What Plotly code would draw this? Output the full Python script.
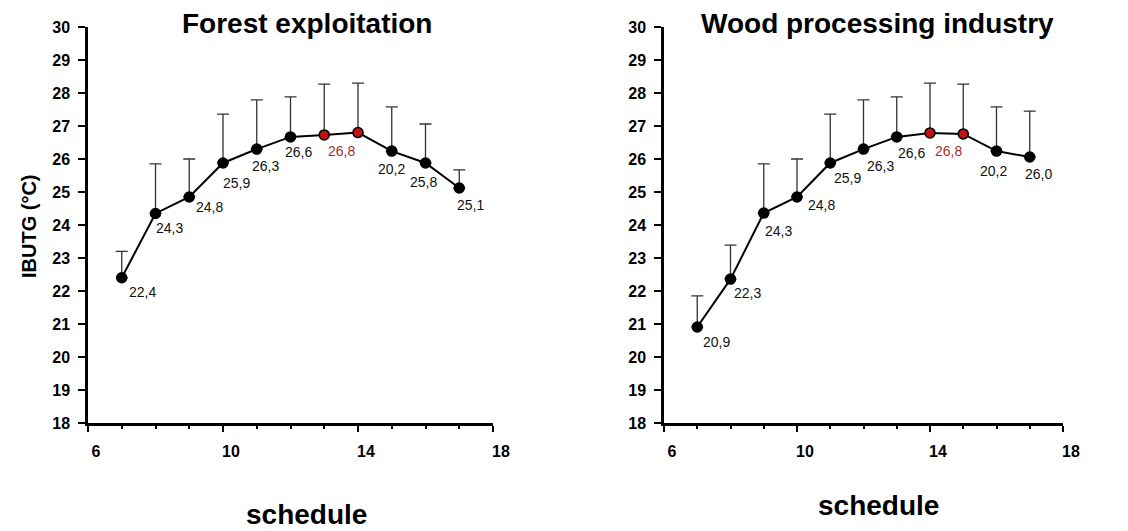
import plotly.graph_objects as go

# ---- data ----
hours = [7, 8, 9, 10, 11, 12, 13, 14, 15, 16, 17]

forest_mean = [22.4, 24.35, 24.85, 25.88, 26.3, 26.67, 26.73, 26.8, 26.24, 25.88, 25.12]
forest_err = [0.8, 1.5, 1.15, 1.48, 1.49, 1.21, 1.54, 1.5, 1.34, 1.18, 0.55]
forest_labels = ["22,4", "24,3", "24,8", "25,9", "26,3", "26,6", "26,8", None, "20,2", "25,8", "25,1"]
forest_red = [False, False, False, False, False, False, True, True, False, False, False]

wood_mean = [20.91, 22.36, 24.36, 24.85, 25.88, 26.3, 26.67, 26.79, 26.76, 26.24, 26.06]
wood_err = [0.94, 1.03, 1.49, 1.15, 1.48, 1.49, 1.21, 1.51, 1.51, 1.34, 1.39]
wood_labels = ["20,9", "22,3", "24,3", "24,8", "25,9", "26,3", "26,6", "26,8", None, "20,2", "26,0"]
wood_red = [False, False, False, False, False, False, False, True, True, False, False]

titles = ["Forest exploitation", "Wood processing industry"]
x_title = "schedule"
y_title = "IBUTG (°C)"
x_ticks = [6, 10, 14, 18]

# ---- label offsets (pixels, right / down) ----
forest_off = [(21, 14), (14, 15), (20, 10), (13, 20), (9, 17), (8, 15), (17, 16), None, (0, 18), (-2, 19), (11, 17)]
wood_off = [(19, 15), (17, 14), (15, 18), (24, 8), (17, 15), (17, 17), (15, 16), (18, 18), None, (-3, 20), (9, 17)]

RED = "#c0120f"
RED_TXT = "#a8302a"
W, H = 1128, 531          # browser window
PAD = 8                   # default page body margin
FW, FH = W - PAD, H - PAD # figure size
FONT = "Liberation Sans, Arial"


def px(x):
    return (x - PAD) / FW


def py(y):
    return 1 - (y - PAD) / FH


fig = go.Figure()
panels = [
    (forest_mean, forest_err, forest_labels, forest_red, forest_off, "x", "y"),
    (wood_mean, wood_err, wood_labels, wood_red, wood_off, "x2", "y2"),
]
annotations = []
for mean, err, labels, red, off, xa, ya in panels:
    fig.add_trace(go.Scatter(
        x=hours, y=mean, mode="lines+markers", xaxis=xa, yaxis=ya,
        line=dict(color="black", width=2),
        marker=dict(size=10, color=[RED if r else "black" for r in red],
                    line=dict(color="black", width=1.5)),
        error_y=dict(type="data", symmetric=False, array=err,
                     arrayminus=[0] * len(err), color="#333333",
                     thickness=1.3, width=6),
        showlegend=False, hoverinfo="x+y",
    ))
    for xv, yv, lab, r, o in zip(hours, mean, labels, red, off):
        if lab is None:
            continue
        annotations.append(dict(
            x=xv, y=yv, xref=xa, yref=ya, text=lab, showarrow=False,
            xshift=o[0], yshift=-o[1], xanchor="center", yanchor="middle",
            font=dict(family=FONT, size=14,
                      color=RED_TXT if r else "#111111"),
        ))

# panel titles & axis titles
for txt, cx, cy in [(titles[0], 307, 24), (titles[1], 877, 24)]:
    annotations.append(dict(x=px(cx), y=py(cy), xref="paper", yref="paper",
                            xanchor="center", yanchor="middle",
                            text="<b>%s</b>" % txt, showarrow=False,
                            font=dict(family=FONT, size=28, color="black")))
for cx, cy in [(306, 514), (878, 505)]:
    annotations.append(dict(x=px(cx), y=py(cy), xref="paper", yref="paper",
                            xanchor="center", yanchor="middle",
                            text="<b>%s</b>" % x_title, showarrow=False,
                            font=dict(family=FONT, size=28, color="black")))
annotations.append(dict(x=px(29), y=py(226), xref="paper", yref="paper",
                        xanchor="center", yanchor="middle",
                        text="<b>%s</b>" % y_title, showarrow=False, textangle=-90,
                        font=dict(family=FONT, size=20, color="black")))

tickfont = dict(family=FONT, size=16, color="black", weight="bold")


def xaxis(dom, anchor):
    return dict(domain=dom, range=[6, 18], tickvals=x_ticks, ticks="outside",
                ticklen=6, tickwidth=2, tickcolor="black", anchor=anchor,
                minor=dict(dtick=1, ticks="outside", ticklen=3, tickwidth=2, tickcolor="black"),
                showline=True, linecolor="black", linewidth=2.5,
                showgrid=False, zeroline=False, tickfont=tickfont,
                ticklabelshift=8, ticklabelstandoff=6, automargin=False)


def yaxis(dom, anchor):
    return dict(domain=dom, range=[18, 30], dtick=1, ticks="outside",
                ticklen=7, tickwidth=2, tickcolor="black", anchor=anchor,
                showline=True, linecolor="black", linewidth=2.5,
                showgrid=False, zeroline=False, tickfont=tickfont,
                ticklabelstandoff=5, automargin=False)


ydom = [py(423), py(27)]
fig.update_layout(
    width=FW, height=FH,
    margin=dict(l=0, r=0, t=0, b=0, autoexpand=False),
    paper_bgcolor="white", plot_bgcolor="white",
    xaxis=xaxis([px(88), px(493)], "y"),
    yaxis=yaxis(ydom, "x"),
    xaxis2=xaxis([px(664), px(1063)], "y2"),
    yaxis2=yaxis(ydom, "x2"),
    annotations=annotations,
)

fig.write_html("out.html")
